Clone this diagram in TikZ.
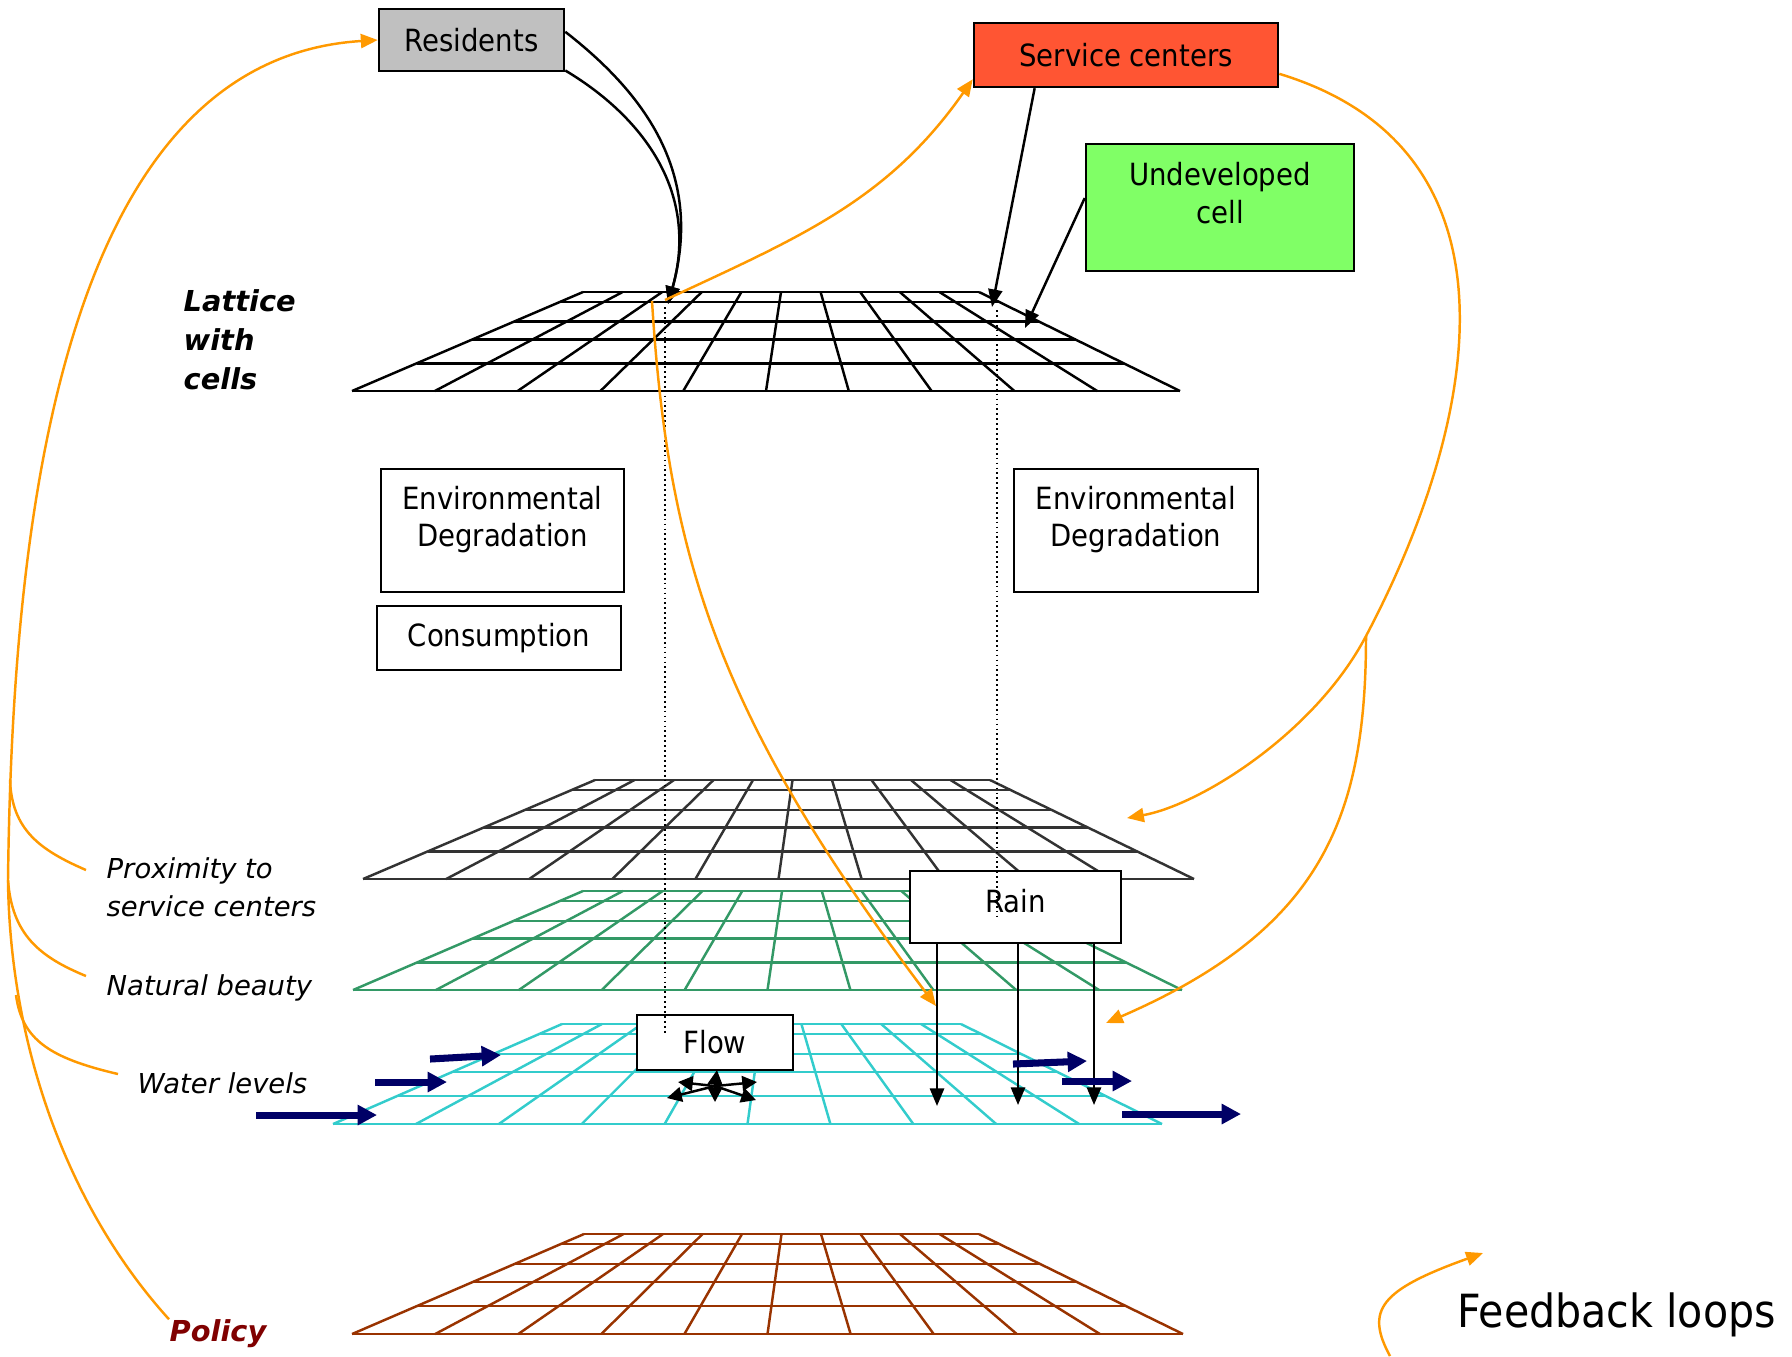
\documentclass[tikz,border=0pt]{standalone}
\usepackage{fontspec}
\setmainfont{DejaVu Sans Condensed}
\newfontfamily\tagfam{DejaVu Sans}
\usetikzlibrary{arrows.meta}
\definecolor{fborange}{HTML}{FF9900}
\definecolor{wavenavy}{HTML}{000066}
\definecolor{resgray}{HTML}{C0C0C0}
\definecolor{svcred}{HTML}{FF5533}
\definecolor{undevgreen}{HTML}{80FF66}
\definecolor{proxgray}{HTML}{333333}
\definecolor{beautygreen}{HTML}{339966}
\definecolor{watercyan}{HTML}{33CCCC}
\definecolor{policybrown}{HTML}{993300}
\definecolor{policyred}{HTML}{800000}
\newcommand{\boxfont}{\fontsize{8.7}{10.8}\selectfont}
\newcommand{\tagfont}{\tagfam\itshape\fontsize{7.8}{10.7}\selectfont}
\newcommand{\tagbold}{\tagfam\bfseries\itshape\fontsize{8.2}{11.1}\selectfont}
\newcommand{\twolines}[2]{\begin{tabular}[b]{@{}c@{}}#1\\#2\end{tabular}}
% perspective lattice: colour, top y, bottom y, top-left x, top-right x, bottom-left x, bottom-right x
\newcommand{\lattice}[7]{%
  \foreach \f in {0,.1,.3,.48,.72,1}
    \draw[mesh,#1] ({#4+(#6-#4)*\f},{#2+(#3-#2)*\f}) -- ({#5+(#7-#5)*\f},{#2+(#3-#2)*\f});
  \foreach \i in {0,...,10}
    \draw[mesh,#1] ({#4+(#5-#4)*\i/10},#2) -- ({#6+(#7-#6)*\i/10},#3);
}

\begin{document}
\begin{tikzpicture}[x=0.01cm, y=-0.01cm,
  every node/.style={font=\boxfont},
  mesh/.style={line width=0.7pt},
  box/.style={draw, line width=0.7pt, inner sep=0pt, anchor=center},
  upbox/.style={box, text depth=9pt},
  tag/.style={font=\tagfont, anchor=west, align=left, inner sep=0pt},
  link/.style={line width=0.7pt, -{Triangle[length=5pt,width=4pt]}},
  spread/.style={line width=0.7pt, -{Triangle[length=4.2pt,width=4.2pt]}},
  probe/.style={line width=0.4pt, dash pattern=on 0.5pt off 0.9pt},
  wave/.style={wavenavy, line width=2pt, -{Triangle[length=5.5pt,width=5.5pt]}},
  fb/.style={fborange, line width=0.7pt},
  fbarr/.style={fb, -{Triangle[length=4.8pt,width=4pt]}}]
\useasboundingbox (0,0) rectangle (1792,1356);

\lattice{black}{292}{391}{583}{979}{352}{1180}
\lattice{proxgray}{780}{879}{595}{990}{363}{1194}
\lattice{beautygreen}{891}{990}{583}{981}{353}{1182}
\lattice{watercyan}{1024}{1124}{562}{961}{333}{1162}
\lattice{policybrown}{1234}{1334}{584}{979}{352}{1183}

\node[box, fill=resgray, minimum width=1.85cm, minimum height=0.62cm] (res) at (471.5,40) {Residents};
\node[box, fill=svcred, minimum width=3.04cm, minimum height=0.64cm] (svc) at (1126,55) {Service centers};
\node[upbox, fill=undevgreen, minimum width=2.68cm, minimum height=1.27cm] (undev) at (1220,207.5) {\twolines{Undeveloped}{cell}};
\node[upbox, fill=white, minimum width=2.43cm, minimum height=1.23cm] (envl) at (502.5,530.5) {\twolines{Environmental}{Degradation}};
\node[box, fill=white, minimum width=2.44cm, minimum height=0.64cm] (cons) at (499,638) {Consumption};
\node[upbox, fill=white, minimum width=2.44cm, minimum height=1.23cm] (envr) at (1136,530.5) {\twolines{Environmental}{Degradation}};
\node[box, fill=white, minimum width=2.11cm, minimum height=0.72cm, text depth=3.4pt] (rain) at (1015.5,907) {Rain};
\node[box, fill=white, minimum width=1.56cm, minimum height=0.55cm] (flow) at (715,1042.5) {Flow};

\node[tag, font=\tagbold] (celltag) at (183,340) {Lattice\\with\\cells};
\node[tag] (proxtag) at (106,887) {Proximity to\\service centers};
\node[tag] (beautytag) at (106,988) {Natural beauty};
\node[tag] (watertag) at (137,1083) {Water levels};
\node[tag, font=\tagbold, text=policyred] (policytag) at (169,1334) {Policy};
\node[anchor=base west, inner sep=0pt, font=\fontsize{13}{15}\selectfont] (legend) at (1457,1327) {Feedback loops};

\coordinate (respick) at (668,304);
\coordinate (svcpick) at (992,307);
\coordinate (undevpick) at (1025,328);
\draw[link] (res.5) .. controls (640,90) and (705,170) .. (respick);
\draw[link] (res.-18) .. controls (640,115) and (700,190) .. (respick);
\draw[link] (svc.200) -- (svcpick);
\draw[link] (undev.176) -- (undevpick);

\coordinate (drop1) at (665,307);
\coordinate (drop1end) at (665,1033);
\coordinate (drop2) at (997,310);
\coordinate (drop2end) at (997,918);
\draw[probe] (drop1) -- (drop1end);
\draw[probe] (drop2) -- (drop2end);

\coordinate (r1) at (937,1106);
\coordinate (r2) at (1018,1105);
\coordinate (r3) at (1094,1105);
\foreach \r in {r1,r2,r3}
  \draw[link] (rain.south -| \r) -- (\r);

\coordinate (fc) at (715,1086);
\foreach \dx/\dy in {2/-16,-37/-4,42/-4,-48/12,0/16,41/14}
  \draw[spread] (fc) -- ++(\dx,\dy);

\foreach \a/\b/\c/\d in {430/1059/501/1055, 375/1082/447/1082, 256/1115/377/1115,
                         1013/1064/1087/1061, 1062/1081/1132/1081, 1122/1114/1241/1114}
  \draw[wave] (\a,\b) -- (\c,\d);

\coordinate (fbpick) at (665,300);
\coordinate (fbdrop) at (652,301);
\coordinate (beautypick) at (936,1006);
\coordinate (fork) at (1366,636);
\coordinate (proxpick) at (1127,818);
\coordinate (waterpick) at (1106,1023);
\draw[fbarr] (fbpick) to[out=25,in=-125] (svc.189);
\draw[fbarr] (fbdrop) .. controls (668,560) and (720,720) .. (beautypick);
\draw[fbarr] (svc.-7) .. controls (1530,150) and (1480,420) .. (fork)
  .. controls (1315,733) and (1200,805) .. (proxpick);
\draw[fbarr] (fork) .. controls (1366,820) and (1320,930) .. (waterpick);

\coordinate (lfork) at (8,880);
\coordinate (j1) at (10,780);
\coordinate (j3) at (16,995);
\coordinate (proxend) at (86,870);
\coordinate (beautyend) at (86,976);
\coordinate (waterend) at (118,1074);
\draw[fbarr] (policytag.north west) .. controls (70,1210) and (10,1050) .. (lfork)
  .. controls (12,560) and (50,60) .. (res.west);
\draw[fb] (j1) .. controls (12,830) and (40,850) .. (proxend);
\draw[fb] (lfork) .. controls (12,935) and (40,957) .. (beautyend);
\draw[fb] (j3) .. controls (22,1040) and (50,1058) .. (waterend);

\coordinate (fbfrom) at (1390,1356);
\coordinate (fbto) at (1483,1253);
\draw[fbarr] (fbfrom) .. controls (1365,1310) and (1380,1290) .. (fbto);
\end{tikzpicture}
\end{document}
